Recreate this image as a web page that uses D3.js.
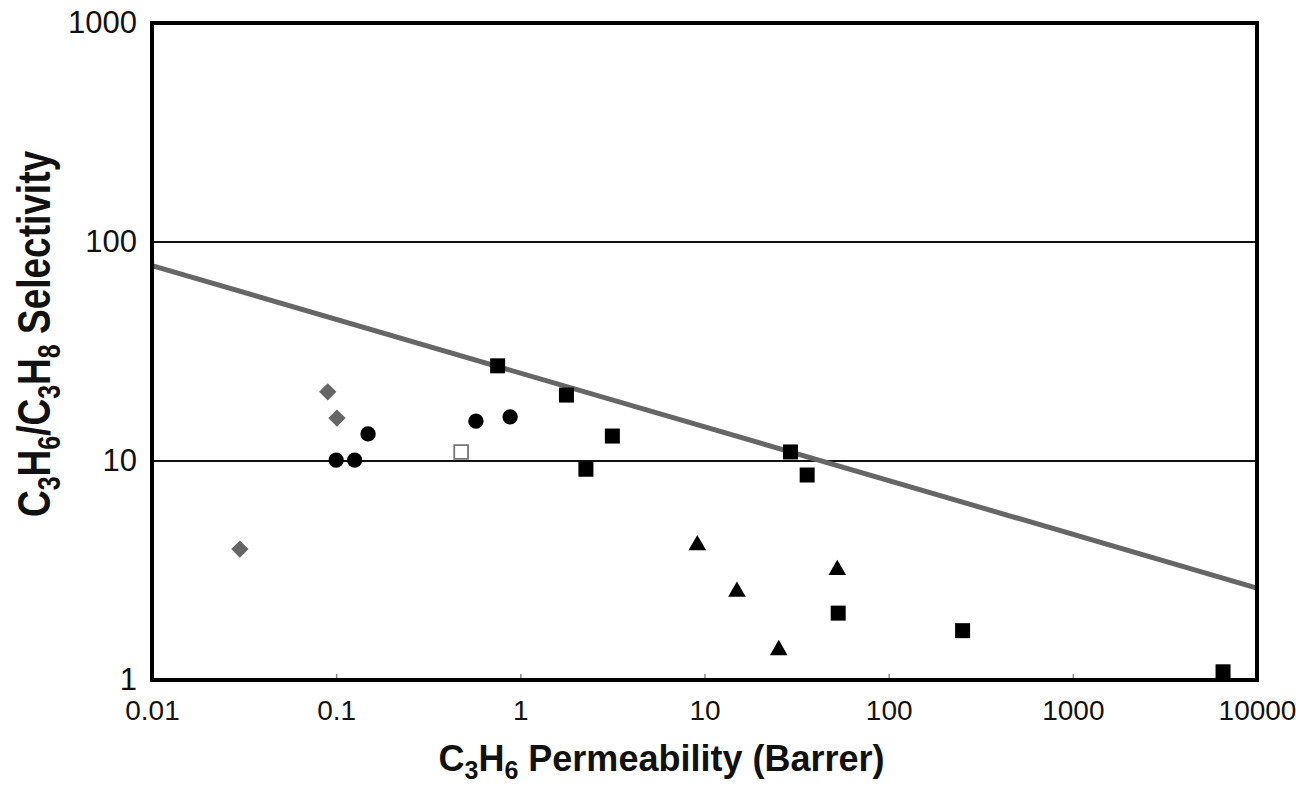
<!DOCTYPE html>
<html>
<head>
<meta charset="utf-8">
<script src="https://cdn.jsdelivr.net/npm/d3@7"></script>
<style>
    body { margin: 0; background: #fff; }
    svg { display: block; font-family: "Liberation Sans", Arial, sans-serif; }
</style>
</head>
<body>
<div id="chart"></div>
<script>
// axis ticks
const xTicks = [0.01, 0.1, 1, 10, 100, 1000, 10000];
const yTicks = [1, 10, 100, 1000];
const yGrid = [10, 100];

// [permeability, selectivity]
const diamondPts = [[0.09, 20.7], [0.101, 15.7], [0.030, 3.96]];
const circlePts = [[0.100, 10.1], [0.126, 10.1], [0.149, 13.3], [0.574, 15.2], [0.88, 15.9]];
const openSquarePts = [[0.477, 11.0]];
const squarePts = [[0.753, 27.2], [1.78, 20.0], [3.16, 13.0], [2.27, 9.17], [29.3, 11.0],
    [36.1, 8.63], [53.2, 2.02], [252, 1.68], [6540, 1.09]];
const trianglePts = [[9.14, 4.13], [15.0, 2.53], [25.3, 1.37], [52.6, 3.18]];

// upper bound line
const boundLine = [[0.01, 78], [10000, 2.63]];

const W = 1296, H = 786,
    margin = { top: 23, right: 39, bottom: 106, left: 152 },
    width = W - margin.left - margin.right,
    height = H - margin.top - margin.bottom;

const svg = d3.select("#chart").append("svg")
    .attr("width", W).attr("height", H);

const g = svg.append("g")
    .attr("transform", "translate(" + margin.left + "," + margin.top + ")");

const x = d3.scaleLog().domain([0.01, 10000]).range([0, width]);
const y = d3.scaleLog().domain([1, 1000]).range([height, 0]);

// gridlines
g.selectAll(".grid")
    .data(yGrid)
    .enter().append("line")
    .attr("x1", 0).attr("x2", width)
    .attr("y1", d => y(d)).attr("y2", d => y(d))
    .attr("stroke", "#111").attr("stroke-width", 2);

// x axis: small inward ticks + labels
const xAxis = g.append("g")
    .attr("transform", "translate(0," + height + ")")
    .call(d3.axisBottom(x).tickValues(xTicks).tickSizeInner(-6).tickSizeOuter(0).tickPadding(20)
        .tickFormat(d => String(d)));
xAxis.select(".domain").remove();
xAxis.selectAll("line").attr("stroke", "#888").attr("stroke-width", 1.5);
xAxis.selectAll("text").attr("font-size", 28).attr("fill", "#111")
    .attr("font-family", "'Liberation Sans', Arial, sans-serif");

const yAxis = g.append("g")
    .call(d3.axisLeft(y).tickValues(yTicks).tickSize(0).tickPadding(15)
        .tickFormat(d => String(d)));
yAxis.select(".domain").remove();
yAxis.selectAll("text").attr("font-size", 31).attr("fill", "#111")
    .attr("font-family", "'Liberation Sans', Arial, sans-serif");

// upper bound line
g.append("path")
    .datum(boundLine)
    .attr("d", d3.line().x(d => x(d[0])).y(d => y(d[1])))
    .attr("fill", "none").attr("stroke", "#666").attr("stroke-width", 5);

function drawMarkers(pts, type, size, fill, stroke, rot) {
    g.selectAll(null)
        .data(pts)
        .enter().append("path")
        .attr("d", d3.symbol().type(type).size(size))
        .attr("transform", d => "translate(" + x(d[0]) + "," + y(d[1]) + ")" + (rot ? " rotate(" + rot + ")" : ""))
        .attr("fill", fill)
        .attr("stroke", stroke || "none")
        .attr("stroke-width", stroke ? 1.8 : 0);
}

drawMarkers(diamondPts, d3.symbolSquare, 150, "#666", null, 45);
drawMarkers(circlePts, d3.symbolCircle, 185, "#000");
drawMarkers(openSquarePts, d3.symbolSquare, 190, "#fff", "#777");
drawMarkers(squarePts, d3.symbolSquare, 225, "#000");
drawMarkers(trianglePts, d3.symbolTriangle, 135, "#000");

// plot frame
g.append("rect")
    .attr("width", width).attr("height", height)
    .attr("fill", "none").attr("stroke", "#000").attr("stroke-width", 4);

// axis titles with subscripts
function subTitle(sel, parts, big, small) {
    let shifted = false;
    const shift = Math.round(big * 0.22);
    parts.forEach(p => {
        const ts = sel.append("tspan").text(p.t);
        if (p.sub) {
            ts.attr("font-size", small).attr("dy", shifted ? 0 : shift);
            shifted = true;
        } else {
            ts.attr("font-size", big).attr("dy", shifted ? -shift : 0);
            shifted = false;
        }
    });
}

const xTitle = svg.append("text")
    .attr("x", margin.left + width / 2 - 43).attr("y", 771)
    .attr("text-anchor", "middle").attr("font-weight", "bold").attr("fill", "#111");
subTitle(xTitle, [{ t: "C" }, { t: "3", sub: true }, { t: "H" }, { t: "6", sub: true },
    { t: " Permeability (Barrer)" }], 36, 25);

const yTitle = svg.append("text")
    .attr("transform", "translate(50,334) rotate(-90) scale(1,1.25)")
    .attr("text-anchor", "middle").attr("font-weight", "bold").attr("fill", "#111");
subTitle(yTitle, [{ t: "C" }, { t: "3", sub: true }, { t: "H" }, { t: "6", sub: true },
    { t: "/C" }, { t: "3", sub: true }, { t: "H" }, { t: "8", sub: true },
    { t: " Selectivity" }], 37, 25);
</script>
</body>
</html>
